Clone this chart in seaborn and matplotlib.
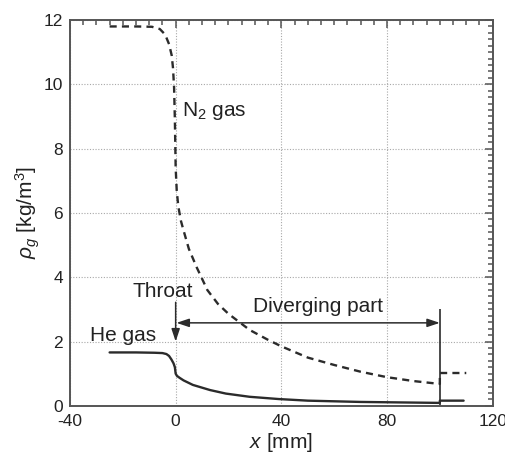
import matplotlib
matplotlib.use("Agg")
import matplotlib.pyplot as plt
from matplotlib.ticker import MultipleLocator
import seaborn as sns
import numpy as np

# N2 gas density along the nozzle (dashed)
x_n2 = [-25, -15, -9, -6, -4, -2.5, -1.5, -1, -0.6, -0.3, 0, 0.4, 1, 2, 3, 5, 8,
        12, 16, 20, 28, 35, 40, 50, 60, 70, 80, 90, 100, 100, 110]
y_n2 = [11.80, 11.80, 11.79, 11.72, 11.55, 11.25, 10.9, 10.5, 9.9, 8.9, 7.4, 6.7,
        6.2, 5.75, 5.45, 4.88, 4.3, 3.6, 3.17, 2.86, 2.36, 2.05, 1.85, 1.50, 1.27,
        1.06, 0.89, 0.77, 0.68, 1.02, 1.02]

# He gas density along the nozzle (solid)
x_he = [-25, -15, -8, -5, -3.5, -2.5, -1.6, -0.8, -0.3, 0, 0.5, 1.5, 3, 6.5, 13,
        19, 28, 39, 50, 60, 70, 80, 90, 100, 100, 109]
y_he = [1.66, 1.66, 1.65, 1.64, 1.61, 1.55, 1.44, 1.32, 1.2, 1.0, 0.93, 0.87, 0.79,
        0.65, 0.49, 0.38, 0.28, 0.21, 0.16, 0.14, 0.12, 0.11, 0.10, 0.09, 0.16, 0.16]

x_ticks = [-40, 0, 40, 80, 120]
y_ticks = [0, 2, 4, 6, 8, 10, 12]

sns.set_theme(style="white")
plt.rcParams["font.family"] = ["Liberation Sans", "DejaVu Sans"]
plt.rcParams["mathtext.fontset"] = "custom"
plt.rcParams["mathtext.rm"] = "Liberation Sans"
plt.rcParams["mathtext.it"] = "Liberation Sans:italic"
plt.rcParams["axes.unicode_minus"] = False

ink = "#2b2b2b"
edge = "#555555"

fig = plt.figure(figsize=(5.05, 4.53), dpi=100)
ax = fig.add_axes([0.1386, 0.1042, 0.9756 - 0.1386, 0.9558 - 0.1042])

sns.lineplot(x=x_n2, y=y_n2, ax=ax, color=ink, lw=1.7, sort=False,
             estimator=None, linestyle=(0, (3, 2.2)))
sns.lineplot(x=x_he, y=y_he, ax=ax, color=ink, lw=1.7, sort=False,
             estimator=None)

ax.set_xlim(-40, 120)
ax.set_ylim(0, 12)
ax.set_xticks(x_ticks)
ax.set_yticks(y_ticks)
ax.xaxis.set_minor_locator(MultipleLocator(5))
ax.yaxis.set_minor_locator(MultipleLocator(0.2))
ax.tick_params(which="both", direction="in", top=True, right=True,
               color=edge, width=1.1, labelsize=12.5, labelcolor="#222222")
ax.tick_params(which="major", length=6)
ax.tick_params(which="minor", length=3.6)
ax.tick_params(axis="x", which="major", pad=6)
ax.tick_params(axis="y", which="major", pad=5)
ax.grid(True, which="major", linestyle=(0, (1, 1.5)), color="#a8a8a8", lw=0.8)
for s in ax.spines.values():
    s.set_color(edge)
    s.set_linewidth(1.4)

ax.set_xlabel("$x$ [mm]", fontsize=15, color="#222222", labelpad=1)
ax.set_ylabel(r"$\rho_g$ [kg/m$^3$]", fontsize=15, color="#222222", labelpad=1)

fs = 15
ax.text(2.5, 9.0, "N$_2$ gas", fontsize=fs, color="#222222", va="baseline")
ax.text(-32.3, 2.03, "He gas", fontsize=fs, color="#222222", va="baseline")
ax.text(-4.9, 3.37, "Throat", fontsize=fs, color="#222222", ha="center", va="baseline")
ax.text(29.1, 2.93, "Diverging part", fontsize=fs, color="#222222", va="baseline")

ax.annotate("", xy=(0, 2.0), xytext=(0, 3.22),
            arrowprops=dict(arrowstyle="-|>,head_length=0.75,head_width=0.25",
                            color=ink, lw=1.1, shrinkA=0, shrinkB=0, mutation_scale=10))
ax.annotate("", xy=(100, 2.58), xytext=(0.3, 2.58),
            arrowprops=dict(arrowstyle="<|-|>,head_length=0.75,head_width=0.25",
                            color=ink, lw=1.1, shrinkA=0, shrinkB=0, mutation_scale=10))
ax.vlines(100, 0.02, 3.0, color=ink, lw=1.2)

fig.savefig("out.png", dpi=100)
